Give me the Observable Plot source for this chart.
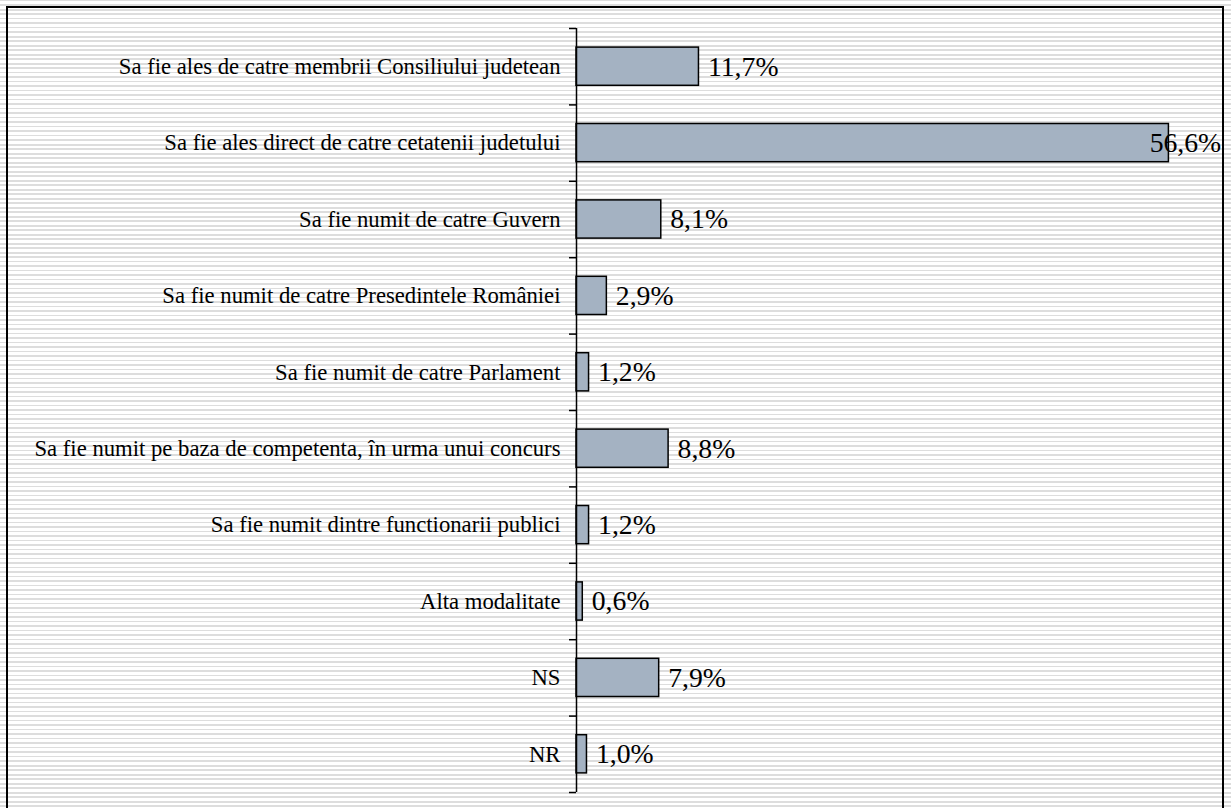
<!DOCTYPE html>
<html><head><meta charset="utf-8">
<script src="https://cdn.jsdelivr.net/npm/d3@7"></script>
<script src="https://cdn.jsdelivr.net/npm/@observablehq/plot@0.6"></script>
<style>
html,body{margin:0;padding:0;}
body{width:1231px;height:808px;overflow:hidden;position:relative;
  background:repeating-linear-gradient(to bottom,#dddddd 0px,#dddddd 1.5px,#ffffff 1.5px,#ffffff 4.5px);}
#frame{position:absolute;left:6px;top:6px;width:1214px;height:900px;border:2px solid #000;}
#chart{position:absolute;left:0;top:0;}
#chart svg, #chart svg text, #chart svg g {font-family: "Liberation Serif", "Times New Roman", serif !important;}
</style></head><body><div id="frame"></div><div id="chart"></div>
<script>
const categories = [
  "Sa fie ales de catre membrii Consiliului judetean",
  "Sa fie ales direct de catre cetatenii judetului",
  "Sa fie numit de catre Guvern",
  "Sa fie numit de catre Presedintele României",
  "Sa fie numit de catre Parlament",
  "Sa fie numit pe baza de competenta, în urma unui concurs",
  "Sa fie numit dintre functionarii publici",
  "Alta modalitate",
  "NS",
  "NR"
];
const values = [11.7, 56.6, 8.1, 2.9, 1.2, 8.8, 1.2, 0.6, 7.9, 1.0];
const valueLabels = ["11,7%", "56,6%", "8,1%", "2,9%", "1,2%", "8,8%", "1,2%", "0,6%", "7,9%", "1,0%"];
const xDomain = [0, 60];
const labelLimit = 53.9;
const serif = "Liberation Serif";

const data = categories.map((c, i) => ({i, category: c, value: values[i], label: valueLabels[i]}));

const chart = Plot.plot({
  width: 1231, height: 808,
  marginLeft: 576, marginRight: 27, marginTop: 28, marginBottom: 16,
  style: {background: "transparent", fontFamily: serif, color: "#000"},
  x: {domain: xDomain, axis: null},
  y: {domain: [-0.5, 9.5], range: [28, 792], axis: null},
  marks: [
    Plot.rectX(data, {x1: d => 0, x2: "value", y1: d => d.i - 0.25, y2: d => d.i + 0.25,
      fill: "#a4b2c2", stroke: "#000", strokeWidth: 1.5}),
    Plot.ruleX([0], {stroke: "#000", strokeWidth: 1.5}),
    Plot.axisY({ticks: d3.range(-0.5, 10, 1), tickSize: 7, tickFormat: () => "", strokeWidth: 1.5, label: null}),
    Plot.axisY({ticks: d3.range(0, 10), tickSize: 0, tickPadding: 16, tickFormat: i => categories[i],
      fontSize: 22.7, fontFamily: serif, fill: "#000", label: null}),
    Plot.text(data, {x: d => Math.min(d.value, labelLimit), y: "i", text: "label", dx: 9,
      textAnchor: "start", fontSize: 27.7, fontFamily: serif, fill: "#000"})
  ]
});
document.getElementById("chart").appendChild(chart);
</script>
</body></html>
